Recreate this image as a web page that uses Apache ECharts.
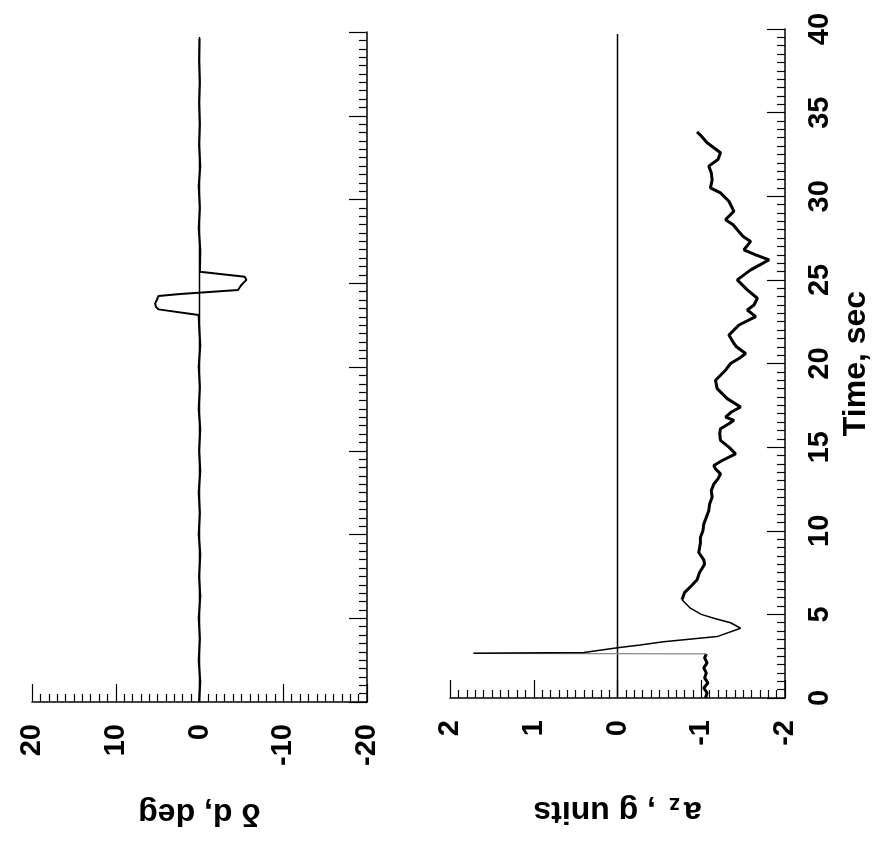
<!DOCTYPE html>
<html>
<head>
<meta charset="utf-8">
<script src="https://cdn.jsdelivr.net/npm/echarts@6/dist/echarts.min.js"></script>
<style>
html,body{margin:0;padding:0;background:#fff;}
#chart{width:884px;height:841px;}
</style>
</head>
<body>
<div id="chart"></div>
<script>
// ---- Data (time in seconds) ----
const timeRange = [0, 40];
const deltaRange = [-20, 20];
const azRange = [-2, 2];

// Elevator deflection, delta_d (deg)
const deltaTime  = [0, 1.2, 2.5, 3.8, 5.0, 6.3, 7.5, 8.8, 10.0, 11.3, 12.5, 13.8, 15.0, 16.3, 17.5, 18.8, 20.0, 21.3, 22.5, 23.1, 23.44, 23.6, 23.8, 24.0, 24.24, 24.36, 24.6, 24.9, 25.2, 25.39, 25.69, 25.8, 27.0, 28.3, 29.5, 30.8, 32.0, 33.3, 34.5, 35.8, 37.0, 38.3, 39.6];
const deltaValue = [0.05, -0.1, 0.1, -0.05, 0.1, -0.1, 0.05, -0.1, 0.1, -0.05, 0.1, -0.1, 0.05, -0.1, 0.1, -0.05, 0.1, -0.1, 0.05, 0.1, 4.9, 5.2, 5.3, 5.1, 4.9, 2.3, -4.6, -5.0, -5.6, -5.4, -0.05, 0.05, -0.1, 0.1, -0.05, 0.1, -0.1, 0.05, -0.05, 0.05, -0.05, 0.05, 0.0];

// Normal acceleration, a_z (g units): pre-spike, spike/recovery, then manoeuvre
const azTime  = [0.0, 0.3, 0.6, 0.9, 1.2, 1.5, 1.8, 2.1, 2.4, 2.64, 2.67, 2.72, 3.0, 3.17, 3.37, 3.67, 4.17, 4.5, 4.77, 5.0, 5.37, 5.87, 6.3, 6.7, 7.07, 7.5, 8.0, 8.26, 8.7, 9.25, 9.6, 10.0, 10.4, 10.8, 11.2, 11.6, 12.0, 12.4, 12.8, 13.1, 13.4, 13.7, 13.9, 14.2, 14.6, 15.0, 15.4, 15.8, 16.1, 16.4, 16.6, 16.8, 17.1, 17.4, 17.9, 18.5, 19.0, 19.6, 20.0, 20.3, 20.6, 21.0, 21.2, 21.7, 22.3, 22.8, 23.2, 23.5, 23.9, 24.4, 25.0, 25.6, 25.9, 26.2, 26.5, 26.8, 27.3, 27.6, 28.0, 28.3, 28.6, 29.1, 29.4, 29.7, 30.2, 30.5, 30.97, 31.4, 31.8, 32.2, 32.6, 33.2, 33.6, 33.85];
const azValue = [-1.05, -1.07, -1.03, -1.08, -1.04, -1.06, -1.03, -1.07, -1.04, -1.06, 1.72, 0.40, 0.0, -0.27, -0.55, -1.19, -1.47, -1.35, -1.15, -1.0, -0.87, -0.77, -0.8, -0.88, -0.95, -0.98, -1.04, -1.03, -0.97, -0.99, -0.99, -1.02, -1.03, -1.06, -1.09, -1.1, -1.13, -1.12, -1.15, -1.2, -1.23, -1.17, -1.15, -1.25, -1.41, -1.33, -1.23, -1.22, -1.23, -1.33, -1.39, -1.29, -1.36, -1.47, -1.31, -1.19, -1.17, -1.29, -1.35, -1.45, -1.53, -1.42, -1.39, -1.33, -1.45, -1.65, -1.55, -1.63, -1.67, -1.55, -1.43, -1.59, -1.7, -1.81, -1.65, -1.51, -1.59, -1.5, -1.43, -1.38, -1.29, -1.39, -1.36, -1.33, -1.23, -1.11, -1.13, -1.12, -1.09, -1.2, -1.23, -1.07, -1.0, -0.95];
const azSpikeStart = 9;   // index of the sample before the jump
const azSpikeEnd = 21;    // index where the trace settles (t = 5.87 s)

// Zero reference lines
const zeroLineTime = [0, 39.7];
const zeroLineValue = [0, 0];

const pairs = (vals, times) => vals.map((v, i) => [v, times[i]]);
const sliceP = (vals, times, a, b) => pairs(vals.slice(a, b), times.slice(a, b));

const FONT = "'Liberation Sans', Arial, Helvetica, sans-serif";
const black = '#000';

function valueAxis(gridIndex, range, interval, name, rich) {
  return {
    type: 'value', gridIndex: gridIndex, min: range[0], max: range[1], interval: interval,
    inverse: true, position: 'bottom',
    axisLine: { show: true, onZero: false, lineStyle: { color: black, width: 1.5 } },
    axisTick: { show: true, inside: true, length: 18, lineStyle: { color: black, width: 1.2 } },
    minorTick: { show: true, splitNumber: 10, length: 8, lineStyle: { color: black, width: 1.2 } },
    splitLine: { show: false }, minorSplitLine: { show: false },
    axisLabel: { rotate: 90, margin: 22, color: black, fontSize: 29, fontWeight: 'bold', fontFamily: FONT },
    name: name, nameLocation: 'middle', nameRotate: 180, nameGap: 95,
    nameTextStyle: Object.assign({ color: black, fontSize: 32, fontWeight: 'bold', fontFamily: FONT }, rich ? { rich: rich } : {})
  };
}
function timeAxis(gridIndex, showLabels) {
  return {
    type: 'value', gridIndex: gridIndex, min: timeRange[0], max: timeRange[1], interval: 5,
    position: 'right',
    axisLine: { show: true, onZero: false, lineStyle: { color: black, width: 1.5 } },
    axisTick: { show: true, inside: true, length: 18, lineStyle: { color: black, width: 1.2 } },
    minorTick: { show: true, splitNumber: 10, length: 8, lineStyle: { color: black, width: 1.2 } },
    splitLine: { show: false }, minorSplitLine: { show: false },
    axisLabel: { show: showLabels, rotate: 90, margin: 20, color: black, fontSize: 29, fontWeight: 'bold', fontFamily: FONT },
    name: showLabels ? 'Time, sec' : '', nameLocation: 'middle', nameRotate: 90, nameGap: 55,
    nameTextStyle: { color: black, fontSize: 32, fontWeight: 'bold', fontFamily: FONT }
  };
}

const chart = echarts.init(document.getElementById('chart'), null, { renderer: 'canvas' });
chart.setOption({
  backgroundColor: '#fff',
  animation: false,
  grid: [
    { left: 32, right: 884 - 367, top: 32, bottom: 841 - 702 },
    { left: 450, right: 884 - 785, top: 29, bottom: 841 - 698 }
  ],
  xAxis: [
    valueAxis(0, deltaRange, 10, 'δ d, deg'),
    valueAxis(1, azRange, 1, '{m|a}{s|z}{m| , g units}', {
      m: { fontSize: 32, fontWeight: 'bold', fontFamily: FONT, color: black },
      s: { fontSize: 22, fontWeight: 'bold', fontFamily: FONT, color: black, verticalAlign: 'bottom', padding: [14, 4, 0, 4] }
    })
  ],
  yAxis: [ timeAxis(0, false), timeAxis(1, true) ],
  series: [
    { type: 'line', xAxisIndex: 0, yAxisIndex: 0, data: pairs(zeroLineValue, zeroLineTime), showSymbol: false, lineStyle: { color: black, width: 1.5 } },
    { type: 'line', xAxisIndex: 0, yAxisIndex: 0, data: pairs(deltaValue, deltaTime), showSymbol: false, lineStyle: { color: black, width: 2 } },
    { type: 'line', xAxisIndex: 1, yAxisIndex: 1, data: pairs(zeroLineValue, zeroLineTime), showSymbol: false, lineStyle: { color: black, width: 1.5 } },
    { type: 'line', xAxisIndex: 1, yAxisIndex: 1, data: sliceP(azValue, azTime, 0, azSpikeStart + 1), showSymbol: false, lineStyle: { color: black, width: 3 } },
    { type: 'line', xAxisIndex: 1, yAxisIndex: 1, data: sliceP(azValue, azTime, azSpikeStart, azSpikeStart + 2), showSymbol: false, lineStyle: { color: '#888', width: 1.2 } },
    { type: 'line', xAxisIndex: 1, yAxisIndex: 1, data: sliceP(azValue, azTime, azSpikeStart + 1, azSpikeEnd + 1), showSymbol: false, lineStyle: { color: black, width: 1.5 } },
    { type: 'line', xAxisIndex: 1, yAxisIndex: 1, data: sliceP(azValue, azTime, azSpikeEnd, azValue.length), showSymbol: false, lineStyle: { color: black, width: 3 } }
  ]
});
</script>
</body>
</html>
